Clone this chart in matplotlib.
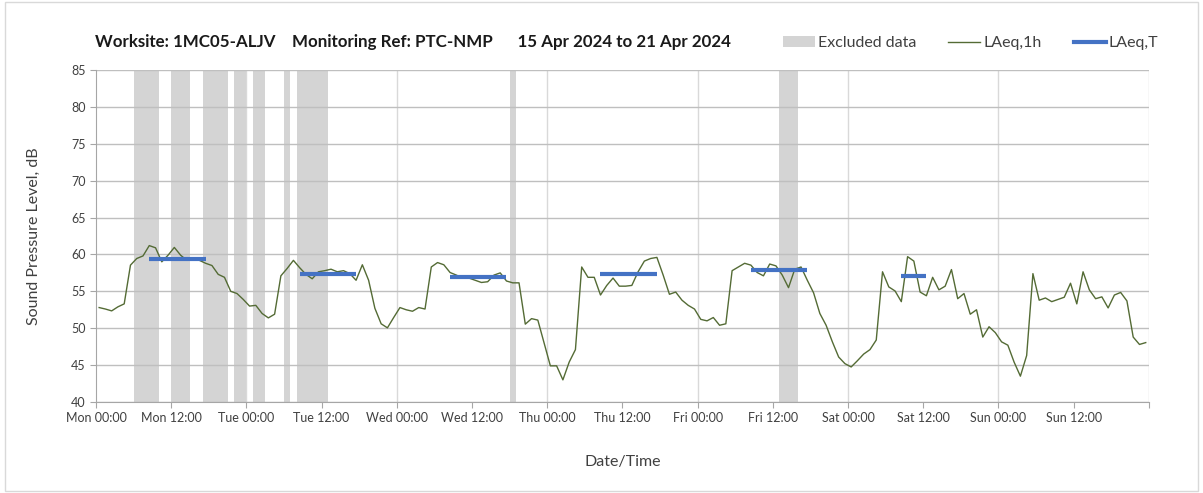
import numpy as np
import pandas as pd
import matplotlib
matplotlib.use('Agg')
import matplotlib.pyplot as plt
import matplotlib.dates as mdates
from matplotlib.patches import Patch, Rectangle
from matplotlib.lines import Line2D

plt.rcParams['font.family'] = ['Lato', 'DejaVu Sans']

# hourly LAeq,1h values, 15 Apr 2024 00:30 onwards (one per hour)
laeq_1h = [
    52.8, 52.6, 52.35, 52.9, 53.3, 58.55, 59.45, 59.8, 61.2, 60.9, 59.0, 59.9,
    60.95, 59.9, 59.2, 59.3, 59.2, 58.8, 58.5, 57.3, 56.9, 55.0, 54.7, 53.9,
    53.0, 53.1, 52.0, 51.4, 51.9, 57.1, 58.1, 59.2, 58.2, 57.3, 56.7, 57.65,
    57.8, 58.0, 57.65, 57.8, 57.4, 56.5, 58.6, 56.5, 52.7, 50.6, 50.05, 51.45,
    52.8, 52.5, 52.3, 52.8, 52.6, 58.3, 58.9, 58.6, 57.55, 57.2, 56.8, 56.8,
    56.5, 56.2, 56.3, 57.2, 57.5, 56.4, 56.15, 56.15, 50.55, 51.3, 51.1, 48.0,
    44.9, 44.9, 43.0, 45.4, 47.1, 58.3, 56.9, 56.9, 54.5, 55.8, 56.8, 55.7,
    55.7, 55.8, 57.65, 59.1, 59.45, 59.6, 57.2, 54.6, 54.9, 53.8, 53.1, 52.6,
    51.2, 51.0, 51.45, 50.4, 50.6, 57.8, 58.3, 58.8, 58.55, 57.55, 57.1, 58.7,
    58.45, 57.2, 55.5, 58.0, 58.3, 56.5, 54.8, 52.0, 50.4, 48.15, 46.1, 45.2,
    44.75, 45.6, 46.5, 47.1, 48.4, 57.65, 55.6, 55.05, 53.6, 59.7, 59.1, 54.9,
    54.4, 56.9, 55.2, 55.7, 57.95, 54.0, 54.7, 51.9, 52.5, 48.8, 50.2, 49.4,
    48.15, 47.7, 45.4, 43.5, 46.3, 57.4, 53.8, 54.1, 53.6, 53.9, 54.2, 56.1,
    53.3, 57.65, 55.2, 54.0, 54.25, 52.75, 54.5, 54.85, 53.7, 48.8, 47.8, 48.05,
]

# excluded periods (start, end)
excluded = [
    ('2024-04-15 06:00', '2024-04-15 10:00'),
    ('2024-04-15 12:00', '2024-04-15 15:00'),
    ('2024-04-15 17:00', '2024-04-15 21:00'),
    ('2024-04-15 22:00', '2024-04-16 00:00'),
    ('2024-04-16 01:00', '2024-04-16 03:00'),
    ('2024-04-16 06:00', '2024-04-16 07:00'),
    ('2024-04-16 08:00', '2024-04-16 13:00'),
    ('2024-04-17 18:00', '2024-04-17 19:00'),
    ('2024-04-19 13:00', '2024-04-19 16:00'),
]

# LAeq,T periods (start, end, level)
laeq_t_start = ['2024-04-15 08:30', '2024-04-16 08:30', '2024-04-17 08:30',
                '2024-04-18 08:30', '2024-04-19 08:30', '2024-04-20 08:30']
laeq_t_end = ['2024-04-15 17:30', '2024-04-16 17:30', '2024-04-17 17:30',
              '2024-04-18 17:30', '2024-04-19 17:30', '2024-04-20 12:30']
laeq_t = [59.45, 57.4, 57.0, 57.3, 57.95, 57.05]

GREEN = '#546B35'
BLUE = '#4472C4'
GREY_BAND = '#D4D4D4'
TEXT = '#404040'


def main():
    times = pd.date_range('2024-04-15 00:30', periods=len(laeq_1h), freq='h')

    fig = plt.figure(figsize=(12.03, 4.93), dpi=100)
    ax = fig.add_axes([0.0798, 0.1846, 0.8752, 0.6734])

    for start, end in excluded:
        ax.axvspan(pd.Timestamp(start), pd.Timestamp(end), color=GREY_BAND,
                   lw=0, zorder=0.1)

    ax.plot(times, laeq_1h, color=GREEN, lw=1.0, zorder=2)

    for s, e, v in zip(laeq_t_start, laeq_t_end, laeq_t):
        ax.plot([pd.Timestamp(s), pd.Timestamp(e)], [v, v], color=BLUE,
                lw=3, solid_capstyle='butt', zorder=3)

    ax.set_xlim(pd.Timestamp('2024-04-15 00:00'), pd.Timestamp('2024-04-22 00:00'))
    ax.set_ylim(40, 85)
    ax.set_yticks(range(40, 86, 5))

    ticks = pd.date_range('2024-04-15 00:00', '2024-04-22 00:00', freq='12h')
    ax.set_xticks(ticks)
    labels = [t.strftime('%a %H:%M') for t in ticks]
    labels[-1] = ''
    ax.set_xticklabels(labels)

    # horizontal grid every 5 dB, vertical grid at midnight only
    ax.set_axisbelow(True)
    ax.yaxis.grid(True, color='#BFBFBF', lw=1)
    for day in pd.date_range('2024-04-16', '2024-04-22', freq='D'):
        ax.axvline(day, color='#D9D9D9', lw=1, zorder=0.5)

    for side in ['top', 'right']:
        ax.spines[side].set_visible(False)
    for side in ['left', 'bottom']:
        ax.spines[side].set_color('#A6A6A6')
    ax.tick_params(axis='both', direction='out', length=4, color='#A6A6A6',
                   labelsize=9, labelcolor=TEXT)

    ax.set_ylabel('Sound Pressure Level, dB', fontsize=11.5, color=TEXT, labelpad=22)
    ax.set_xlabel('Date/Time', fontsize=11.5, color=TEXT, labelpad=22)

    fig.text(0.079, 0.915, 'Worksite: 1MC05-ALJV    Monitoring Ref: PTC-NMP      '
             '15 Apr 2024 to 21 Apr 2024', fontsize=12.2, fontweight='bold',
             color='#1A1A1A', va='center')

    handles = [Patch(color=GREY_BAND, lw=0),
               Line2D([0], [0], color=GREEN, lw=1),
               Line2D([0], [0], color=BLUE, lw=3)]
    fig.legend(handles, ['Excluded data', 'LAeq,1h', 'LAeq,T'], ncol=3,
               loc='center right', bbox_to_anchor=(0.975, 0.912), frameon=False,
               fontsize=11.5, handlelength=2.0, handletextpad=0.2,
               columnspacing=2.0, labelcolor=TEXT)

    # light chart border
    fig.patches.append(Rectangle((0.004, 0.004), 0.992, 0.992, transform=fig.transFigure,
                                 fill=False, edgecolor='#D9D9D9', lw=1))

    fig.savefig('out.png', dpi=100)


if __name__ == '__main__':
    main()
